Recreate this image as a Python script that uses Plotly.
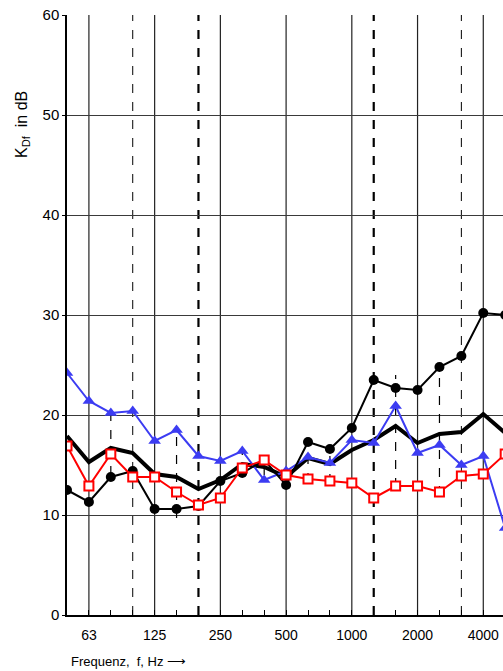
import plotly.graph_objects as go

bands = ["50", "63", "80", "100", "125", "160", "200", "250", "315", "400", "500",
         "630", "800", "1000", "1250", "1600", "2000", "2500", "3150", "4000", "5000"]

blue_tri = [24.2, 21.4, 20.2, 20.4, 17.4, 18.5, 15.9, 15.4, 16.4, 13.5, 14.4,
            15.8, 15.2, 17.5, 17.2, 20.9, 16.2, 17.0, 15.0, 15.9, 8.7]
red_sq = [16.9, 12.9, 16.1, 13.8, 13.8, 12.3, 11.0, 11.7, 14.7, 15.5, 14.0,
          13.6, 13.4, 13.2, 11.7, 12.9, 12.9, 12.3, 13.9, 14.1, 16.1]
black_dot = [12.5, 11.3, 13.8, 14.4, 10.6, 10.6, 10.9, 13.4, 14.2, 15.5, 13.0,
             17.3, 16.6, 18.7, 23.5, 22.7, 22.5, 24.8, 25.9, 30.2, 30.0]
black_thick = [17.9, 15.3, 16.7, 16.2, 14.1, 13.8, 12.6, 13.5, 15.1, 14.8, 13.8,
               15.7, 15.1, 16.5, 17.5, 18.9, 17.2, 18.1, 18.3, 20.1, 18.2]

# dashed range lines (band, low, high)
range_bands = ["80", "160", "315", "400", "630", "800", "1600", "2500"]
range_lo = [14.0, 9.7, 14.2, 14.0, 13.3, 13.2, 12.8, 12.0]
range_hi = [20.3, 18.5, 16.7, 15.8, 17.2, 16.5, 24.0, 24.8]

label_bands = ["63", "125", "250", "500", "1000", "2000", "4000"]
solid_grid = ["63", "125", "250", "500", "1000", "2000", "4000"]
thin_dash_grid = ["100", "3150"]
thick_dash_grid = ["200", "1250"]
y_ticks = [0, 10, 20, 30, 40, 50, 60]

fig = go.Figure()

# range lines
rx, ry = [], []
for b, lo, hi in zip(range_bands, range_lo, range_hi):
    rx += [b, b, None]
    ry += [lo, hi, None]
fig.add_trace(go.Scatter(x=rx, y=ry, mode="lines",
                         line=dict(color="black", width=1.2, dash="dash"),
                         showlegend=False, hoverinfo="skip"))

fig.add_trace(go.Scatter(x=bands, y=black_thick, mode="lines",
                         line=dict(color="black", width=4), showlegend=False))
fig.add_trace(go.Scatter(x=bands, y=blue_tri, mode="lines+markers",
                         line=dict(color="#3c3cf2", width=2),
                         marker=dict(symbol="triangle-up", size=11, color="#3c3cf2"),
                         showlegend=False))
fig.add_trace(go.Scatter(x=bands, y=black_dot, mode="lines+markers",
                         line=dict(color="black", width=2),
                         marker=dict(symbol="circle", size=10, color="black"),
                         showlegend=False))
fig.add_trace(go.Scatter(x=bands, y=red_sq, mode="lines+markers",
                         line=dict(color="#ff0000", width=2),
                         marker=dict(symbol="square", size=9, color="white",
                                     line=dict(width=2, color="#ff0000")),
                         showlegend=False))

shapes = []
for b in solid_grid:
    i = bands.index(b)
    shapes.append(dict(type="line", xref="x", yref="paper", x0=i, x1=i, y0=0, y1=1,
                       line=dict(color="#222222", width=1.2), layer="below"))
for b in thin_dash_grid:
    i = bands.index(b)
    shapes.append(dict(type="line", xref="x", yref="paper", x0=i, x1=i, y0=0, y1=1,
                       line=dict(color="black", width=1, dash="dash"), layer="below"))
for b in thick_dash_grid:
    i = bands.index(b)
    shapes.append(dict(type="line", xref="x", yref="paper", x0=i, x1=i, y0=0, y1=1,
                       line=dict(color="black", width=2.2, dash="dash"), layer="below"))

tick_text = [b if b in label_bands else "" for b in bands]

fig.update_layout(
    width=503, height=671,
    margin=dict(l=67, r=0, t=15, b=56),
    paper_bgcolor="white", plot_bgcolor="white",
    font=dict(family="Liberation Sans, Arial, sans-serif", color="black", size=14),
    shapes=shapes,
    xaxis=dict(type="category", categoryorder="array", categoryarray=bands,
               range=[0, 19.9], tickmode="array", tickvals=bands, ticktext=tick_text,
               ticks="inside", ticklen=5, tickcolor="black", tickwidth=1,
               ticklabelstandoff=6,
               showgrid=False, showline=True, linecolor="black", linewidth=1.5,
               zeroline=False, tickfont=dict(size=14)),
    yaxis=dict(range=[0, 60], tickvals=y_ticks, ticks="outside", ticklen=3,
               tickcolor="black", showgrid=True, gridcolor="#3a3a3a", gridwidth=1.2,
               showline=True, linecolor="black", linewidth=1.5, zeroline=False,
               tickfont=dict(size=15)),
    annotations=[
        dict(text="K<sub>Df</sub>  in dB", xref="paper", yref="paper",
             x=-45 / 436, y=(615 - 125) / 600, textangle=-90, showarrow=False,
             xanchor="center", yanchor="middle", font=dict(size=16)),
        dict(text="Frequenz,  f, Hz \u27f6", xref="paper", yref="paper",
             x=2 / 436, y=-46 / 600, showarrow=False, xanchor="left",
             yanchor="middle", font=dict(size=13)),
    ],
)

fig.write_html("out.html", config={"displayModeBar": False},
               post_script="document.body.style.margin='0';document.body.style.overflow='hidden';")
